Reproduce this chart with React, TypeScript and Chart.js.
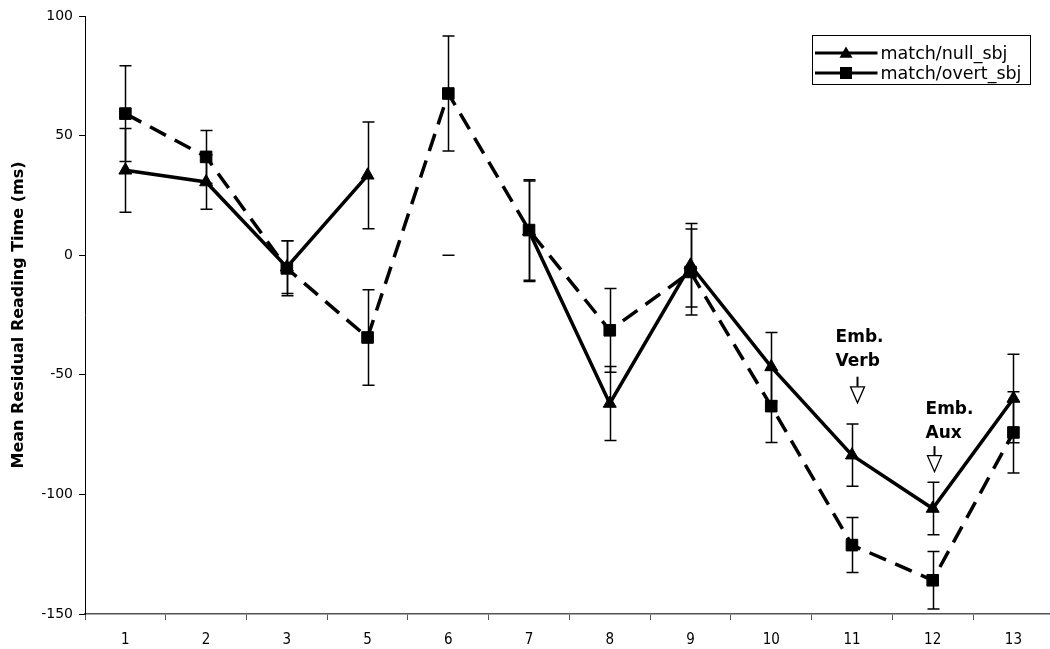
import React, { useEffect, useRef } from 'react';
import { Chart, registerables } from 'chart.js';

Chart.register(...registerables);

// ---------- data ----------
const categories = ['1', '2', '3', '5', '6', '7', '8', '9', '10', '11', '12', '13'];
const seriesLabels = ['match/null_sbj', 'match/overt_sbj'];
// mean residual reading times (ms); null = missing mean
const nullSbj = [35.5, 30.6, -5, 33.4, null, 10, -62, -4.2, -46.7, -83.6, -105.9, -59.9];
// half-width of the error bars (missing mean is drawn centered on 0, as in the source)
const nullSbjErr = [17.5, 11.4, 11, 22.3, 0, 21, 15.5, 17.5, 14.4, 13, 11, 18.5];
const overtSbj = [59.2, 41.1, -5.5, -34.4, 67.6, 10.5, -31.4, -7, -63.1, -121.2, -135.9, -74.1];
const overtSbjErr = [20, 11, 11.5, 20, 24, 21, 17.5, 18, 15.2, 11.5, 12, 17];
const yTicks = [-150, -100, -50, 0, 50, 100];
const yTitle = 'Mean Residual Reading Time (ms)';

// annotations in data units (x = fractional category index, y = ms)
const annotations = [
  { lines: ['Emb.', 'Verb'], textX: 8.797, textY: -34.6, arrowX: 9.057, arrowTop: -50.8, arrowTip: -61.7 },
  { lines: ['Emb.', 'Aux'], textX: 9.911, textY: -64.7, arrowX: 10.014, arrowTop: -79.8, arrowTip: -90.5 },
];

const errors = [nullSbjErr, overtSbjErr];

const FONT = "'DejaVu Sans', Verdana, sans-serif";

const errorBarPlugin = {
  id: 'errorBars',
  beforeDatasetsDraw(chart: any) {
    const { ctx, scales } = chart;
    const xs = scales.x;
    const ys = scales.y;
    ctx.save();
    ctx.strokeStyle = '#000';
    ctx.lineWidth = 1.5;
    chart.data.datasets.forEach((ds: any, di: number) => {
      const errs = errors[di];
      ds.data.forEach((v: number | null, i: number) => {
        const e = errs[i];
        const c = v == null ? 0 : v;
        const x = Math.round(xs.getPixelForValue(i)) + 0.5;
        const yt = ys.getPixelForValue(c + e);
        const yb = ys.getPixelForValue(c - e);
        ctx.beginPath();
        ctx.moveTo(x, yt);
        ctx.lineTo(x, yb);
        ctx.moveTo(x - 6, yt);
        ctx.lineTo(x + 6, yt);
        ctx.moveTo(x - 6, yb);
        ctx.lineTo(x + 6, yb);
        ctx.stroke();
      });
    });
    ctx.restore();
  },
};

function drawTriangle(ctx: CanvasRenderingContext2D, x: number, y: number, r: number) {
  ctx.beginPath();
  ctx.moveTo(x, y - r);
  ctx.lineTo(x + r * 0.866, y + r * 0.5);
  ctx.lineTo(x - r * 0.866, y + r * 0.5);
  ctx.closePath();
  ctx.fill();
}

const overlayPlugin = {
  id: 'overlay',
  afterDraw(chart: any) {
    const { ctx, scales, chartArea } = chart;
    const xs = scales.x;
    const ys = scales.y;
    ctx.save();

    // legend
    const bx = Math.round(chartArea.right - 242) + 0.5;
    const by = Math.round(chartArea.top + 19) + 0.5;
    const bw = 218;
    const bh = 49;
    ctx.fillStyle = '#fff';
    ctx.fillRect(bx, by, bw, bh);
    ctx.strokeStyle = '#000';
    ctx.lineWidth = 1;
    ctx.strokeRect(bx, by, bw, bh);
    seriesLabels.forEach((lab, i) => {
      const cy = by + 17.5 + i * 20;
      ctx.strokeStyle = '#000';
      ctx.lineWidth = 3;
      ctx.beginPath();
      ctx.moveTo(bx + 2.5, cy);
      ctx.lineTo(bx + 65, cy);
      ctx.stroke();
      ctx.fillStyle = '#000';
      const mx = bx + 33.5;
      if (i === 0) drawTriangle(ctx, mx, cy + 1, 7.5);
      else ctx.fillRect(mx - 6, cy - 6, 12, 12);
      ctx.font = `17.5px ${FONT}`;
      ctx.textAlign = 'left';
      ctx.textBaseline = 'middle';
      ctx.fillText(lab, bx + 68, cy + 1);
    });

    // annotations
    annotations.forEach((a) => {
      ctx.fillStyle = '#000';
      ctx.font = `bold 17px ${FONT}`;
      ctx.textAlign = 'left';
      ctx.textBaseline = 'middle';
      const tx = xs.getPixelForValue(a.textX);
      const ty = ys.getPixelForValue(a.textY);
      a.lines.forEach((l, k) => ctx.fillText(l, tx, ty + k * 23.5));
      const ax = Math.round(xs.getPixelForValue(a.arrowX)) + 0.5;
      const top = ys.getPixelForValue(a.arrowTop);
      const tip = ys.getPixelForValue(a.arrowTip);
      const headH = 16;
      ctx.strokeStyle = '#000';
      ctx.lineWidth = 2;
      ctx.beginPath();
      ctx.moveTo(ax, top);
      ctx.lineTo(ax, tip - headH);
      ctx.stroke();
      ctx.lineWidth = 1.3;
      ctx.fillStyle = '#fff';
      ctx.beginPath();
      ctx.moveTo(ax - 7, tip - headH);
      ctx.lineTo(ax + 7, tip - headH);
      ctx.lineTo(ax, tip);
      ctx.closePath();
      ctx.fill();
      ctx.stroke();
    });
    ctx.restore();
  },
};

export default function App() {
  const ref = useRef<HTMLCanvasElement | null>(null);
  useEffect(() => {
    if (!ref.current) return;
    const chart = new Chart(ref.current, {
      type: 'line',
      data: {
        labels: categories,
        datasets: [
          {
            label: seriesLabels[0],
            data: nullSbj,
            borderColor: '#000',
            backgroundColor: '#000',
            borderWidth: 3.5,
            pointStyle: 'triangle',
            pointRadius: 7.5,
            pointBorderWidth: 1,
            pointBackgroundColor: '#000',
            pointBorderColor: '#000',
            spanGaps: false,
            tension: 0,
          },
          {
            label: seriesLabels[1],
            data: overtSbj,
            borderColor: '#000',
            backgroundColor: '#000',
            borderWidth: 3.5,
            borderDash: [18, 10],
            pointStyle: 'rect',
            pointRadius: 8.2,
            pointBorderWidth: 1,
            pointBackgroundColor: '#000',
            pointBorderColor: '#000',
            tension: 0,
          },
        ],
      },
      options: {
        animation: false,
        responsive: false,
        maintainAspectRatio: false,
        layout: { padding: { top: 16, right: 4, left: 0, bottom: 0 } },
        plugins: { legend: { display: false }, tooltip: { enabled: false } },
        scales: {
          x: {
            type: 'category',
            offset: true,
            grid: { display: true, offset: true, drawOnChartArea: false, drawTicks: true, tickLength: 6, color: '#555', lineWidth: 1 },
            border: { display: true, color: '#555', width: 1.5 },
            ticks: {
              color: '#000',
              font: { family: "'DejaVu Sans Condensed', 'DejaVu Sans', sans-serif", size: 15 },
              padding: 11,
              maxRotation: 0,
              autoSkip: false,
            },
            afterFit: (s: any) => { s.height = 35; },
          },
          y: {
            min: -150,
            max: 100,
            afterBuildTicks: (s: any) => { s.ticks = yTicks.map((v) => ({ value: v })); },
            ticks: { color: '#000', font: { family: FONT, size: 14 }, padding: 6 },
            grid: { display: true, drawOnChartArea: false, drawTicks: true, tickLength: 6, color: '#000' },
            border: { display: true, color: '#000', width: 1 },
            title: {
              display: true,
              text: yTitle,
              color: '#000',
              font: { family: FONT, size: 16, weight: 'bold' },
              padding: { top: 9, bottom: 0 },
            },
            afterFit: (s: any) => { s.width = 85; },
          },
        },
      } as any,
      plugins: [errorBarPlugin, overlayPlugin],
    });
    return () => chart.destroy();
  }, []);

  return (
    <div style={{ position: 'fixed', left: 0, top: 0, width: 1050, height: 649, overflow: 'hidden', background: '#fff' }}>
      <canvas ref={ref} width={1063} height={649} style={{ display: 'block' }} />
    </div>
  );
}
